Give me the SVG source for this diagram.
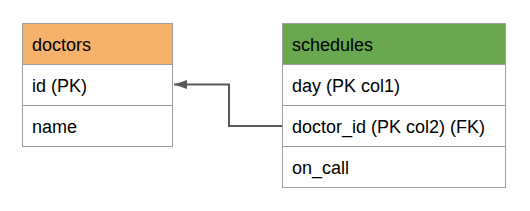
<svg xmlns="http://www.w3.org/2000/svg" width="530" height="211" viewBox="0 0 530 211">
<style>
.cell{fill:#ffffff;stroke:#9e9e9e;stroke-width:1}
.t{font-family:"Liberation Sans",Arial,sans-serif;font-size:18px;fill:#000}
.conn{fill:none;stroke:#595959;stroke-width:2}
</style>
<defs>
<marker id="arr" markerWidth="13" markerHeight="10" refX="13" refY="5" orient="auto" markerUnits="userSpaceOnUse" viewBox="0 0 13 10">
<path d="M0,0.5 L13,5 L0,9.5 z" fill="#595959"/>
</marker>
</defs>
<rect width="530" height="211" fill="#fff"/>
<g id="doctors">
<rect class="cell" x="22.5" y="23.5" width="150" height="41" style="fill:#f6b26b"/>
<rect class="cell" x="22.5" y="64.5" width="150" height="41"/>
<rect class="cell" x="22.5" y="105.5" width="150" height="41"/>
<text class="t" x="32" y="51">doctors</text>
<text class="t" x="32" y="92">id (PK)</text>
<text class="t" x="32" y="133">name</text>
</g>
<g id="schedules">
<rect class="cell" x="282.5" y="23.5" width="223" height="41" style="fill:#6aa84f"/>
<rect class="cell" x="282.5" y="64.5" width="223" height="41"/>
<rect class="cell" x="282.5" y="105.5" width="223" height="41"/>
<rect class="cell" x="282.5" y="146.5" width="223" height="41"/>
<text class="t" x="292" y="51">schedules</text>
<text class="t" x="292" y="92">day (PK col1)</text>
<text class="t" x="292" y="133">doctor_id (PK col2) (FK)</text>
<text class="t" x="292" y="174">on_call</text>
</g>
<g id="connectors">
<path class="conn" d="M282,126 H229 V84.5 H174" marker-end="url(#arr)"/>
</g>
</svg>
